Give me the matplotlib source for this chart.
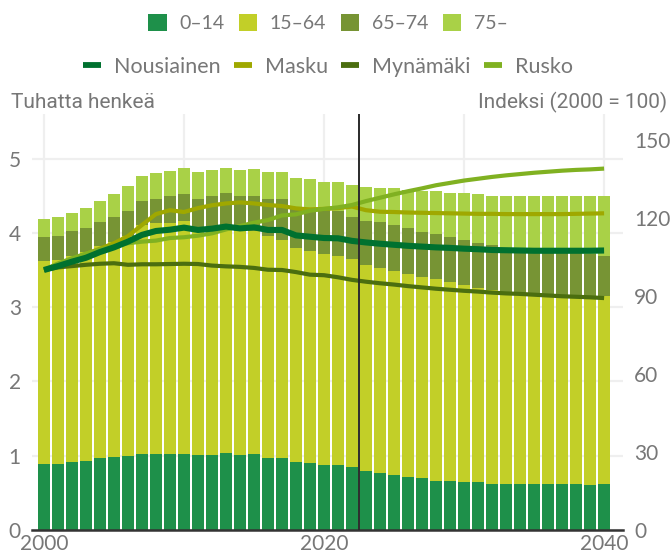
import matplotlib
matplotlib.use("Agg")
import matplotlib.pyplot as plt
from matplotlib.patches import Patch
from matplotlib.lines import Line2D
import numpy as np

years = list(range(2000, 2041))

age_0_14 = [0.89, 0.89, 0.92, 0.93, 0.97, 0.98, 1.00, 1.02, 1.02, 1.02, 1.02,
            1.01, 1.01, 1.04, 1.01, 1.02, 0.97, 0.97, 0.92, 0.90, 0.88, 0.88,
            0.85, 0.80, 0.77, 0.74, 0.72, 0.70, 0.66, 0.66, 0.64, 0.64, 0.62,
            0.62, 0.62, 0.62, 0.62, 0.62, 0.62, 0.61, 0.62]
age_15_64 = [2.73, 2.74, 2.77, 2.81, 2.85, 2.90, 2.96, 3.08, 3.11, 3.11, 3.14,
             3.06, 3.03, 3.01, 3.02, 3.00, 2.99, 2.94, 2.88, 2.85, 2.83, 2.81,
             2.80, 2.77, 2.76, 2.75, 2.73, 2.71, 2.72, 2.68, 2.66, 2.62, 2.61,
             2.57, 2.56, 2.55, 2.54, 2.54, 2.53, 2.54, 2.53]
age_65_74 = [0.33, 0.33, 0.33, 0.32, 0.32, 0.33, 0.34, 0.33, 0.33, 0.36, 0.36,
             0.39, 0.46, 0.48, 0.47, 0.48, 0.49, 0.54, 0.55, 0.58, 0.60, 0.60,
             0.57, 0.59, 0.61, 0.61, 0.61, 0.60, 0.60, 0.60, 0.60, 0.60, 0.60,
             0.61, 0.60, 0.59, 0.59, 0.58, 0.58, 0.56, 0.54]
age_75 = [0.24, 0.26, 0.25, 0.28, 0.29, 0.31, 0.33, 0.33, 0.34, 0.34, 0.35,
          0.36, 0.34, 0.34, 0.34, 0.36, 0.37, 0.37, 0.39, 0.39, 0.38, 0.40,
          0.42, 0.46, 0.47, 0.50, 0.52, 0.56, 0.58, 0.60, 0.63, 0.66, 0.67,
          0.69, 0.71, 0.73, 0.74, 0.75, 0.76, 0.78, 0.80]

nousiainen = [100, 101.5, 103.2, 104.7, 106.9, 108.7, 110.9, 113.5, 115, 115.5,
              116.3, 115.4, 115.9, 116.7, 116, 116.4, 115.4, 115.4, 113.3, 112.8,
              112.3, 112.2, 111.2, 110.6, 110.1, 109.7, 109.3, 109, 108.7, 108.5,
              108.2, 108, 107.7, 107.6, 107.5, 107.4, 107.4, 107.4, 107.4, 107.4, 107.5]
masku = [100, 102, 104.2, 106.2, 108.2, 110.3, 113, 117.3, 121.5, 123, 122.3,
         123.8, 124.9, 125.6, 126, 125.6, 125, 124.6, 123.7, 123.3, 123.5, 123.8,
         124.4, 123, 122.4, 122.3, 122.1, 122, 121.9, 121.8, 121.7, 121.6, 121.6,
         121.5, 121.5, 121.5, 121.5, 121.5, 121.6, 121.7, 121.8]
mynamaki = [100, 101, 101.5, 102, 102.4, 102.6, 102, 102.2, 102.2, 102.3, 102.4,
            102.3, 101.7, 101.4, 101.2, 100.8, 100.1, 100, 99.2, 98.2, 98, 97.2,
            96.2, 95.5, 94.9, 94.4, 93.8, 93.3, 92.8, 92.4, 92, 91.7, 91.3, 91,
            90.8, 90.5, 90.2, 89.9, 89.7, 89.5, 89.2]
rusko = [100, 102.5, 104.5, 106.3, 107.8, 109.2, 110.3, 110.9, 111.3, 112.3,
         112.6, 113.2, 114.1, 115.6, 116.9, 118.2, 119.2, 121, 121.4, 122.8,
         123.5, 124.1, 125, 126.5, 127.8, 129.1, 130.3, 131.4, 132.6, 133.5,
         134.4, 135.1, 135.8, 136.4, 136.9, 137.4, 137.8, 138.2, 138.5, 138.7, 139]

age_labels = ["0–14", "15–64", "65–74", "75–"]
age_colors = ["#1e904a", "#c2cf28", "#779434", "#a9d147"]
muni_labels = ["Nousiainen", "Masku", "Mynämäki", "Rusko"]
muni_colors = ["#00712f", "#9fa800", "#4b6e0f", "#80b121"]
left_ticks = [0, 1, 2, 3, 4, 5]
right_ticks = [0, 30, 60, 90, 120, 150]
x_ticks = [2000, 2010, 2020, 2030, 2040]
x_ticklabels = ["2000", "", "2020", "", "2040"]
divider_year = 2022.5

plt.rcParams['font.family'] = ['Lato', 'DejaVu Sans']
GRAY = "#777777"

fig = plt.figure(figsize=(6.72, 5.56), dpi=100)
ax = fig.add_axes([32/672, 26/556, 591/672, 416/556])

x = np.array(years)
bottom = np.zeros(len(years))
for vals, col in zip([age_0_14, age_15_64, age_65_74, age_75], age_colors):
    ax.bar(x, vals, bottom=bottom, width=0.9, color=col, linewidth=0, zorder=2)
    bottom = bottom + np.array(vals)

ax.set_xlim(1999.15, 2041.35)
ax.set_ylim(0, 5.6)
ax.set_yticks(left_ticks)
ax.set_xticks(x_ticks)
ax.set_xticklabels(x_ticklabels)
ax.set_axisbelow(True)
ax.grid(True, color="#efefef", linewidth=1.6)
for s in ["top", "right", "left"]:
    ax.spines[s].set_visible(False)
ax.spines["bottom"].set_color("#333333")
ax.spines["bottom"].set_linewidth(1.8)
ax.spines["bottom"].set_zorder(5)
ax.tick_params(axis="both", length=0, colors=GRAY, labelsize=15)
ax.tick_params(axis="y", pad=8)
ax.tick_params(axis="x", pad=3)

ax2 = ax.twinx()
ax2.set_ylim(0, 160)
ax2.set_yticks(right_ticks)
for s in ["top", "right", "left", "bottom"]:
    ax2.spines[s].set_visible(False)
ax2.tick_params(axis="y", length=0, colors=GRAY, labelsize=15, pad=8)

order = [1, 2, 3, 0]
series = [nousiainen, masku, mynamaki, rusko]
widths = [4.4, 3.0, 3.0, 3.0]
for i in order:
    ax2.plot(x, series[i], color=muni_colors[i], linewidth=widths[i],
             solid_joinstyle="round", solid_capstyle="butt", zorder=3 + (i == 0))
ax2.axvline(divider_year, color="#2a2a2a", linewidth=1.4, zorder=6)

# legends
h1 = [Patch(facecolor=c, edgecolor="none") for c in age_colors]
leg1 = fig.legend(h1, age_labels, loc="center", bbox_to_anchor=(328/672, 1 - 23/556),
                  ncol=4, frameon=False, fontsize=14, handlelength=0.95, handleheight=0.95,
                  handletextpad=0.65, columnspacing=0.75, labelcolor=GRAY, borderpad=0)
h2 = [Line2D([0], [0], color=c, linewidth=4.2, solid_capstyle="butt") for c in muni_colors]
leg2 = fig.legend(h2, muni_labels, loc="center", bbox_to_anchor=(328/672, 1 - 67/556),
                  ncol=4, frameon=False, fontsize=15.5, handlelength=0.84,
                  handletextpad=0.6, columnspacing=0.62, labelcolor=GRAY, borderpad=0)

fig.text(11/672, 1 - 108/556, "Tuhatta henkeä", ha="left", va="baseline",
         fontsize=15, color=GRAY, family=["Roboto", "DejaVu Sans"])
fig.text(667/672, 1 - 108/556, "Indeksi (2000 = 100)", ha="right", va="baseline",
         fontsize=15, color=GRAY, family=["Roboto", "DejaVu Sans"])

fig.savefig("out.png", dpi=100)
